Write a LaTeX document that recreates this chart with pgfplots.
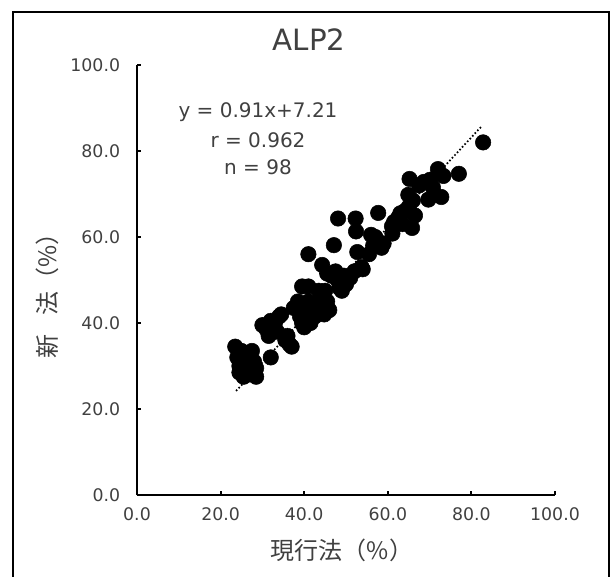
\documentclass[border=0pt]{standalone}
\usepackage{fontspec}
\setmainfont{DejaVu Sans}
\newfontfamily\cjk{Noto Sans CJK JP}
\usepackage{pgfplots}
\pgfplotsset{compat=1.18}
\definecolor{txt}{HTML}{404040}
\pgfplotstableread{
x y
23.5 34.5
24.0 32.0
24.5 30.0
25.0 28.5
25.5 27.5
26.5 28.0
26.0 31.0
27.5 33.5
28.0 31.0
28.5 29.5
28.5 27.5
26.5 33.0
25.0 33.5
24.5 28.5
27.0 30.0
32.0 32.0
30.0 39.5
31.0 38.5
31.5 37.0
32.5 39.0
33.0 40.0
34.0 41.5
34.5 42.0
32.0 40.5
33.5 38.0
35.5 36.0
36.5 35.0
37.0 34.5
36.0 37.0
37.5 43.5
38.5 44.0
39.0 41.5
39.5 40.0
40.0 39.0
40.5 42.5
41.0 45.0
42.0 43.0
42.5 41.5
43.0 44.5
39.5 48.5
41.0 48.5
44.0 46.0
45.0 47.5
45.5 45.0
46.0 43.0
44.8 42.0
44.0 43.5
38.5 45.0
41.5 40.0
43.5 47.5
41.0 56.0
44.3 53.5
47.1 58.1
48.1 64.3
52.3 64.3
52.4 61.3
57.7 65.6
45.5 51.5
46.5 51.0
47.5 52.0
48.0 50.0
48.4 48.2
49.0 47.5
50.0 49.0
51.0 50.5
52.0 52.0
53.7 53.0
54.0 52.5
52.7 56.5
49.5 51.0
55.5 56.0
56.5 58.0
57.0 60.0
57.5 59.0
58.5 57.5
59.0 58.5
56.0 60.5
61.1 60.8
61.0 62.5
61.5 63.5
62.5 64.5
63.0 65.5
63.5 63.0
64.0 66.0
65.0 67.0
65.8 62.1
64.9 69.8
66.0 68.5
65.2 73.5
67.5 72.0
68.6 72.8
70.1 73.3
69.7 68.7
66.5 65.0
72.0 75.8
73.3 74.2
72.8 69.3
77.0 74.7
70.8 71.5
82.8 82.0
}\pts
\begin{document}
\begin{tikzpicture}[x=0.75pt,y=0.75pt]
\useasboundingbox (0,0) rectangle (611,576);
\draw[line width=1.5pt] (12.5,-10) -- (12.5,563.5) -- (609,563.5) -- (609,-10);
\begin{axis}[
 at={(102.75pt,60.75pt)}, anchor=south west,
 scale only axis, width=313.5pt, height=322.5pt,
 xmin=0, xmax=100, ymin=0, ymax=100,
 axis x line*=bottom, axis y line*=left,
 axis line style={line width=1.5pt, black},
 xtick={0,20,...,100}, ytick={0,20,...,100},
 tick align=inside, major tick length=3pt,
 tick style={line width=1.5pt, black},
 /pgf/number format/assume math mode=true,
 ticklabel style={font=\fontsize{13}{15}\selectfont, text=txt,
   /pgf/number format/fixed, /pgf/number format/fixed zerofill,
   /pgf/number format/precision=1},
 xticklabel style={inner sep=0pt, anchor=north, yshift=-9pt},
 yticklabel style={inner sep=0pt, anchor=east, xshift=-12.5pt},
 clip=false,
]
\addplot[black, line width=1.3pt, dash pattern=on 1.2pt off 1.6pt] coordinates {(23.7,24.2) (82.5,85.8)};
\addplot[only marks, mark=*, mark size=5.8pt, black] table[x=x,y=y] {\pts};
\end{axis}
\node[font=\fontsize{22}{26}\selectfont, text=txt] at (309,536) {ALP2};
\node[font=\fontsize{15}{18}\selectfont, text=txt] at (258,464) {y = 0.91x+7.21};
\node[font=\fontsize{15}{18}\selectfont, text=txt] at (258,436) {r = 0.962};
\node[font=\fontsize{15}{18}\selectfont, text=txt] at (258,409) {n = 98};
\node[font=\cjk\fontsize{18}{21}\selectfont, text=txt] at (342,26) {現行法（\%）};
\node[font=\cjk\fontsize{18}{21}\selectfont, text=txt, rotate=90] at (47,286) {新\hspace{0.8em}法（\%）};
\end{tikzpicture}
\end{document}
